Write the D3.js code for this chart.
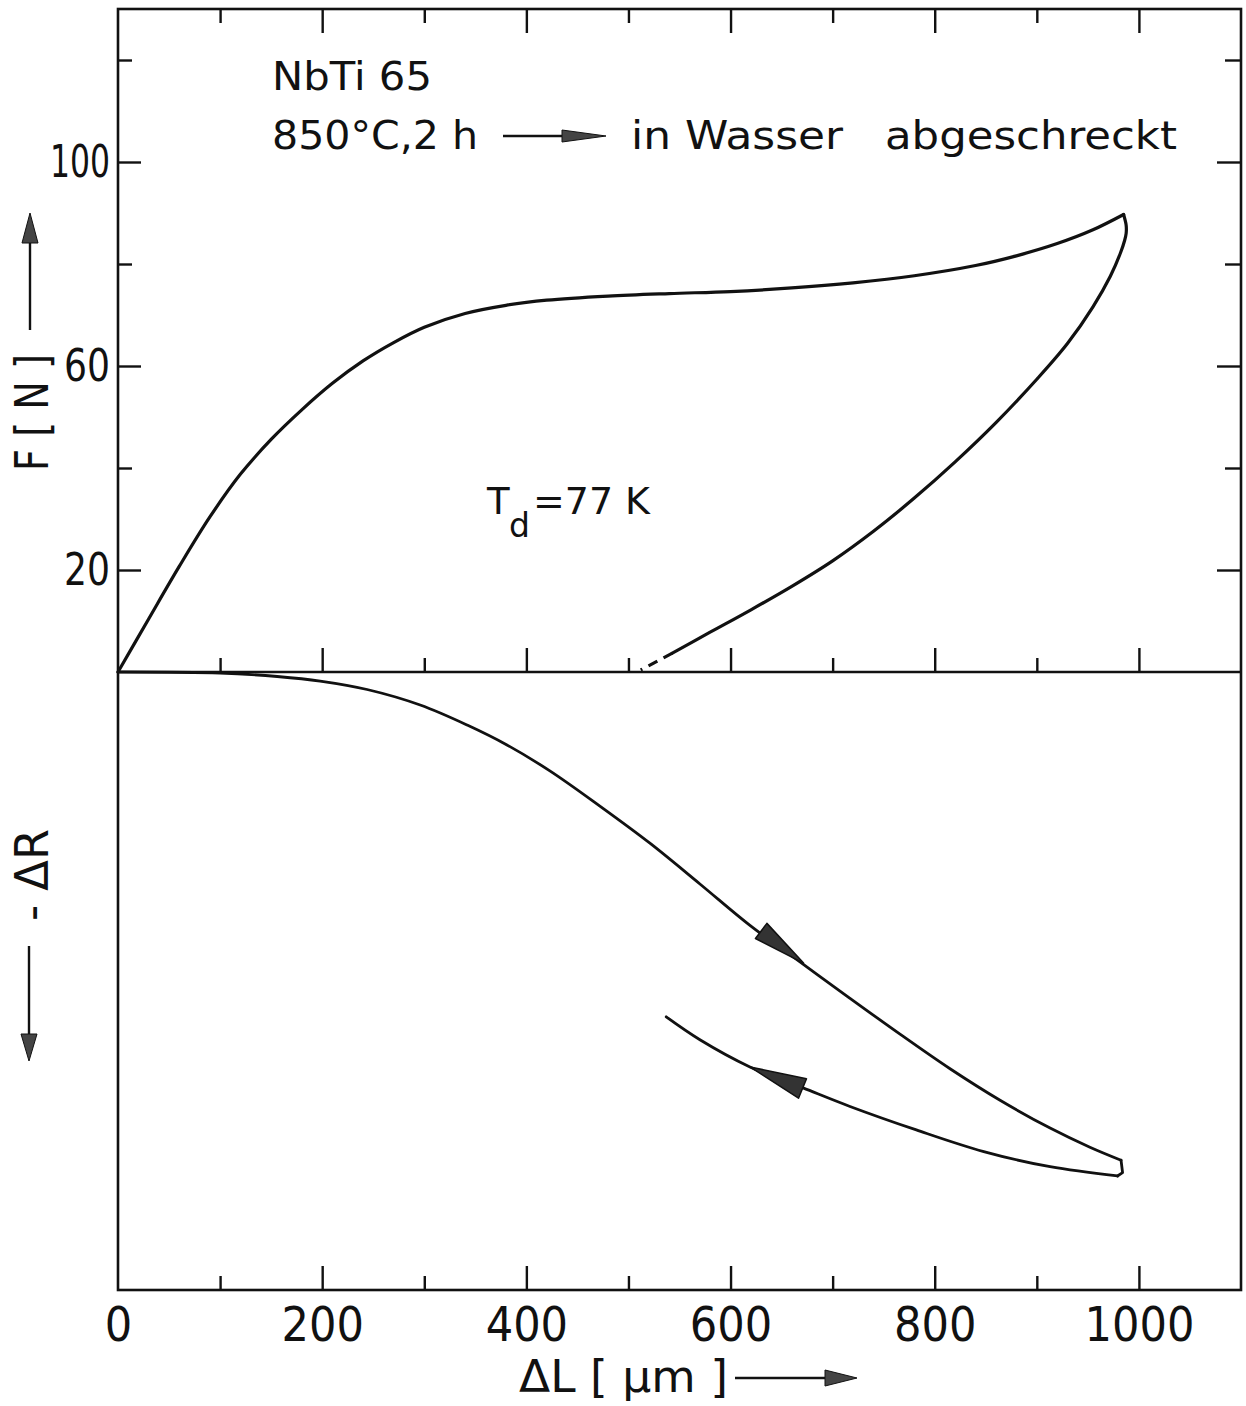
<!DOCTYPE html>
<html><head><meta charset="utf-8">
<script src="https://cdn.jsdelivr.net/npm/d3@7"></script>
<style>
html,body{margin:0;padding:0;background:#fff;}
svg{display:block;}
text{font-family:"DejaVu Sans","Noto Sans",sans-serif;fill:#111;}
</style></head>
<body>
<svg id="chart" width="1246" height="1406"></svg>
<script>
// ---- data ----
const xTicksMajor = [200, 400, 600, 800, 1000];
const xTicksMinor = [100, 300, 500, 700, 900];
const xTickLabels = [0, 200, 400, 600, 800, 1000];
const yTicksMajor = [20, 60, 100];
const yTicksMinor = [40, 80, 120];

// F [N] vs ΔL [µm], loading branch
const loadDL = [0, 30, 60, 90, 120, 150, 180, 210, 240, 270, 300, 340, 380, 420, 480, 540, 600, 660, 720, 780, 840, 880, 920, 955, 985];
const loadF  = [0, 10.4, 20.7, 30.4, 38.8, 45.6, 51.4, 56.6, 61.0, 64.6, 67.6, 70.3, 71.9, 72.9, 73.7, 74.2, 74.6, 75.3, 76.3, 77.7, 79.7, 81.6, 84.0, 86.7, 89.7];
// unloading branch (solid part), from the turning point downwards
const unloadDL = [985, 987.5, 987.5, 986, 982, 972, 955, 930, 900, 860, 820, 780, 740, 700, 660, 620, 580, 543];
const unloadF  = [89.7, 87.6, 86.0, 84.6, 82.2, 77.6, 71.6, 64.4, 57.4, 48.9, 41.2, 34.1, 27.6, 21.8, 16.8, 12.2, 7.8, 3.7];
// unloading branch (dashed extrapolation)
const unloadDashDL = [543, 512];
const unloadDashF  = [3.7, 0.4];

// -ΔR (arbitrary units, increasing downwards) vs ΔL, loading branch
const rLoadDL = [0, 100, 156, 198, 244, 296, 342, 381, 423, 472, 521, 570, 619, 668, 717, 766, 815, 864, 913, 952, 982.5];
const rLoadR  = [0, 0.16, 0.73, 1.46, 2.83, 5.34, 8.58, 11.8, 16.0, 21.7, 27.7, 34.3, 41.0, 46.9, 52.8, 58.6, 64.2, 69.3, 73.8, 76.9, 79.0];
// turning point of the -ΔR curve
const rTurnDL = [982.5, 984, 979];
const rTurnR  = [79.0, 81.0, 81.55];
// -ΔR unloading branch
const rUnloadDL = [979, 913, 848, 782, 717, 671, 619, 570, 537];
const rUnloadR  = [81.55, 80.05, 77.6, 74.1, 70.3, 67.3, 63.9, 59.5, 55.8];
// direction arrows on the ΔR curves: [tail ΔL, tail R, tip ΔL, tip R]
const arrowLoad   = [630, 41.9, 671.5, 47.1];
const arrowUnload = [670.5, 67.4, 619, 63.9];

// ---- layout ----
const svg = d3.select("#chart");
const X0 = 118, X1 = 1241, YT = 9, YM = 672, YB = 1290;
const x  = d3.scaleLinear([0, 1100], [X0, X1]);
const yF = d3.scaleLinear([0, 130], [YM, YT]);
const yR = d3.scaleLinear([0, 100], [YM, YB]);
const INK = "#111";
const COND = '"DejaVu Sans Condensed","DejaVu Sans",sans-serif';

function axisStyle(g, fs){
  g.select(".domain").remove();
  g.selectAll(".tick line").attr("stroke", INK).attr("stroke-width", 2.4);
  g.selectAll(".tick text").attr("fill", INK).style("font-size", fs + "px").style("font-family", COND);
}

// frame
svg.append("rect").attr("x", X0).attr("y", YT).attr("width", X1 - X0).attr("height", YB - YT)
  .attr("fill", "none").attr("stroke", INK).attr("stroke-width", 2.6);
svg.append("line").attr("x1", X0).attr("x2", X1).attr("y1", YM).attr("y2", YM)
  .attr("stroke", INK).attr("stroke-width", 2.6);

// top edge ticks (pointing down)
svg.append("g").attr("transform", `translate(0,${YT})`)
  .call(d3.axisBottom(x).tickValues(xTicksMajor).tickSize(24).tickFormat(""))
  .call(g => axisStyle(g, 10));
svg.append("g").attr("transform", `translate(0,${YT})`)
  .call(d3.axisBottom(x).tickValues(xTicksMinor).tickSize(14).tickFormat(""))
  .call(g => axisStyle(g, 10));
// middle axis ticks (pointing up)
svg.append("g").attr("transform", `translate(0,${YM})`)
  .call(d3.axisTop(x).tickValues(xTicksMajor).tickSize(24).tickFormat(""))
  .call(g => axisStyle(g, 10));
svg.append("g").attr("transform", `translate(0,${YM})`)
  .call(d3.axisTop(x).tickValues(xTicksMinor).tickSize(14).tickFormat(""))
  .call(g => axisStyle(g, 10));
// bottom axis ticks (pointing up) + labels
svg.append("g").attr("transform", `translate(0,${YB})`)
  .call(d3.axisBottom(x).tickValues(xTicksMajor).tickSize(-24).tickFormat(""))
  .call(g => axisStyle(g, 10));
svg.append("g").attr("transform", `translate(0,${YB})`)
  .call(d3.axisBottom(x).tickValues(xTicksMinor).tickSize(-14).tickFormat(""))
  .call(g => axisStyle(g, 10));
svg.append("g").attr("transform", `translate(0,${YB})`)
  .call(d3.axisBottom(x).tickValues(xTickLabels).tickSize(0).tickPadding(17).tickFormat(d3.format("d")))
  .call(g => axisStyle(g, 48));
// left axis (upper panel)
svg.append("g").attr("transform", `translate(${X0},0)`)
  .call(d3.axisLeft(yF).tickValues(yTicksMajor).tickSize(-23).tickPadding(8).tickFormat(d3.format("d")))
  .call(g => axisStyle(g, 45))
  .call(g => g.selectAll(".tick text").attr("textLength", d => d >= 100 ? 60 : 46)
    .attr("lengthAdjust", "spacingAndGlyphs"));
svg.append("g").attr("transform", `translate(${X0},0)`)
  .call(d3.axisLeft(yF).tickValues(yTicksMinor).tickSize(-14).tickFormat(""))
  .call(g => axisStyle(g, 10));
// right axis (upper panel)
svg.append("g").attr("transform", `translate(${X1},0)`)
  .call(d3.axisRight(yF).tickValues(yTicksMajor).tickSize(-24).tickFormat(""))
  .call(g => axisStyle(g, 10));
svg.append("g").attr("transform", `translate(${X1},0)`)
  .call(d3.axisRight(yF).tickValues(yTicksMinor).tickSize(-16).tickFormat(""))
  .call(g => axisStyle(g, 10));

// curves
const zip = (a, b) => a.map((v, i) => [v, b[i]]);
const lineF = d3.line().x(d => x(d[0])).y(d => yF(d[1])).curve(d3.curveCatmullRom.alpha(0.5));
const lineR = d3.line().x(d => x(d[0])).y(d => yR(d[1])).curve(d3.curveCatmullRom.alpha(0.5));
const lineRlin = d3.line().x(d => x(d[0])).y(d => yR(d[1]));
const curves = svg.append("g").attr("fill", "none").attr("stroke", INK).attr("stroke-linejoin", "round").attr("stroke-linecap", "round");
curves.append("path").attr("d", lineF(zip(loadDL, loadF))).attr("stroke-width", 3.2);
curves.append("path").attr("d", lineF(zip(unloadDL, unloadF))).attr("stroke-width", 3.2);
curves.append("path").attr("d", lineF(zip(unloadDashDL, unloadDashF))).attr("stroke-width", 3.2)
  .attr("stroke-linecap", "butt").attr("stroke-dasharray", "10,7");
curves.append("path").attr("d", lineR(zip(rLoadDL, rLoadR))).attr("stroke-width", 2.8);
curves.append("path").attr("d", lineRlin(zip(rTurnDL, rTurnR))).attr("stroke-width", 2.8);
curves.append("path").attr("d", lineR(zip(rUnloadDL, rUnloadR))).attr("stroke-width", 2.8);

// direction arrows (filled triangles along the curves)
function triArrow(a, halfW){
  const tx = x(a[0]), ty = yR(a[1]), px = x(a[2]), py = yR(a[3]);
  const dx = px - tx, dy = py - ty, L = Math.hypot(dx, dy);
  const nx = -dy / L * halfW, ny = dx / L * halfW;
  svg.append("path")
    .attr("d", `M${tx + nx},${ty + ny}L${px},${py}L${tx - nx},${ty - ny}Z`)
    .attr("fill", "#333").attr("stroke", INK).attr("stroke-width", 1.5).attr("stroke-linejoin", "round");
}
triArrow(arrowLoad, 9.5);
triArrow(arrowUnload, 10.5);

// generic pixel arrow for labels
function labelArrow(x1, y1, x2, y2, headLen, halfW){
  const dx = x2 - x1, dy = y2 - y1, L = Math.hypot(dx, dy);
  const ux = dx / L, uy = dy / L;
  const bx = x2 - ux * headLen, by = y2 - uy * headLen;
  svg.append("line").attr("x1", x1).attr("y1", y1).attr("x2", bx).attr("y2", by)
    .attr("stroke", INK).attr("stroke-width", 2.4);
  svg.append("path").attr("d", `M${bx - uy * halfW},${by + ux * halfW}L${x2},${y2}L${bx + uy * halfW},${by - ux * halfW}Z`)
    .attr("fill", "#444").attr("stroke", INK).attr("stroke-width", 1);
}
function fitText(sel, len){
  return sel.attr("textLength", len).attr("lengthAdjust", "spacingAndGlyphs");
}

// annotations
fitText(svg.append("text").attr("x", 272).attr("y", 90).style("font-size", "39px").text("NbTi 65"), 160);
fitText(svg.append("text").attr("x", 272).attr("y", 149).style("font-size", "39px").text("850°C,2 h"), 206);
labelArrow(503, 136, 606, 136, 44, 6);
fitText(svg.append("text").attr("x", 631).attr("y", 149).style("font-size", "39px").text("in Wasser"), 212);
fitText(svg.append("text").attr("x", 885).attr("y", 149).style("font-size", "39px").text("abgeschreckt"), 292);

svg.append("text").attr("x", 487).attr("y", 514).style("font-size", "37px").text("T");
svg.append("text").attr("x", 509).attr("y", 537).style("font-size", "33px").text("d");
fitText(svg.append("text").attr("x", 533).attr("y", 514).style("font-size", "37px").text("=77 K"), 117);

// axis titles
fitText(svg.append("text").attr("transform", "translate(48,471) rotate(-90)").style("font-size", "46px").text("F [ N ]"), 117);
labelArrow(30, 330, 30, 213, 30, 8);

fitText(svg.append("text").attr("transform", "translate(48,921) rotate(-90)").style("font-size", "46px").text("- ΔR"), 92);
labelArrow(29, 946, 29, 1061, 27, 8);

fitText(svg.append("text").attr("x", 519).attr("y", 1392).style("font-size", "44px").text("ΔL [ µm ]"), 209);
labelArrow(735, 1378, 857, 1378, 32, 8);
</script>
</body></html>
